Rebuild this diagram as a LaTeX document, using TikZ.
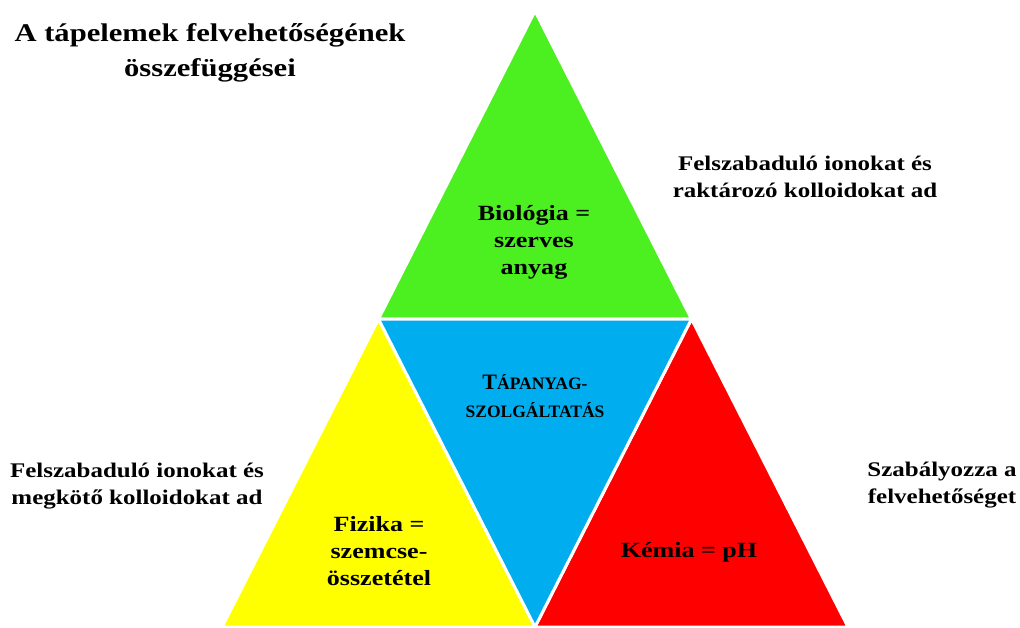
\documentclass[tikz,border=0pt]{standalone}
\usepackage{fontspec}
\setmainfont{Liberation Serif}[FakeStretch=1.2]
\newfontfamily\plainserif{Liberation Serif}
\definecolor{tgreen}{RGB}{76,239,31}
\definecolor{tblue}{RGB}{0,174,239}
\definecolor{tyellow}{RGB}{255,255,0}
\definecolor{tred}{RGB}{255,0,0}
\tikzset{
  tri/.style={draw=white, line width=3pt, line join=miter},
  lbl/.style={align=center, font=\bfseries\fontsize{21.7}{27}\selectfont, text=black, inner sep=0pt},
  side/.style={align=center, font=\bfseries\fontsize{20.8}{27}\selectfont, text=black, inner sep=0pt},
}
\begin{document}
\begin{tikzpicture}[x=1pt,y=-1pt]
\useasboundingbox (0,0) rectangle (1020,627);
\coordinate (A) at (535,11);
\coordinate (L) at (222,627);
\coordinate (R) at (848,627);
\coordinate (ML) at (378.5,319);
\coordinate (MR) at (691.5,319);
\coordinate (MB) at (535,627);
\fill[tgreen, tri] (A) -- (MR) -- (ML) -- cycle;
\fill[tyellow, tri] (ML) -- (MB) -- (L) -- cycle;
\fill[tred, tri] (MR) -- (R) -- (MB) -- cycle;
\fill[tblue, tri] (ML) -- (MR) -- (MB) -- cycle;
\node[lbl, font=\bfseries\fontsize{25.5}{35}\selectfont] (title) at (210,53) {A tápelemek felvehetőségének\\összefüggései};
\node[side] (tr) at (805,177) {Felszabaduló ionokat és\\raktározó kolloidokat ad};
\node[side] (tl) at (137,486) {Felszabaduló ionokat és\\megkötő kolloidokat ad};
\node[side] (rr) at (942,485) {Szabályozza a\\felvehetőséget};
\node[lbl] (bio) at (534,242) {Biológia =\\szerves\\anyag};
\node[lbl, font=\plainserif\bfseries\fontsize{17.5}{28}\selectfont] (tap) at (535,396) {{\fontsize{22}{28}\selectfont T}ÁPANYAG-\\SZOLGÁLTATÁS};
\node[lbl] (fiz) at (379,551) {Fizika =\\szemcse-\\összetétel};
\node[lbl] (kem) at (689,552) {Kémia = pH};
\end{tikzpicture}
\end{document}
